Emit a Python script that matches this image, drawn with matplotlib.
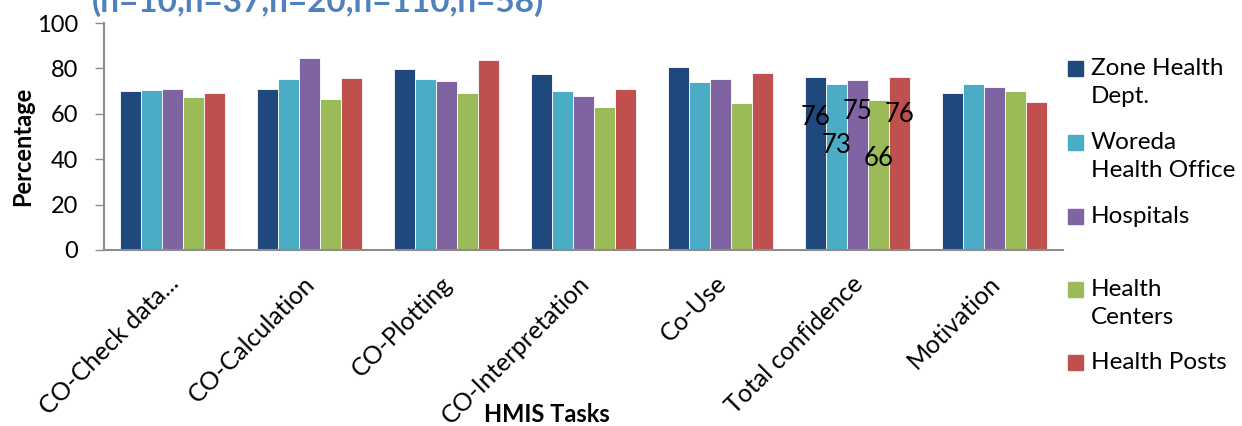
import numpy as np
import matplotlib
matplotlib.use("Agg")
import matplotlib.pyplot as plt
from matplotlib.patches import Rectangle
from matplotlib.transforms import ScaledTranslation

plt.rcParams['font.family'] = ['Lato', 'DejaVu Sans']

tasks = ['CO-Check data...', 'CO-Calculation', 'CO-Plotting', 'CO-Interpretation',
         'Co-Use', 'Total confidence', 'Motivation']
series = ['Zone Health\nDept.', 'Woreda\nHealth Office', 'Hospitals',
          'Health\nCenters', 'Health Posts']
zone = [70.0, 70.9, 79.7, 77.7, 80.6, 76, 69.0]
woreda = [70.3, 75.2, 75.2, 69.9, 74.0, 73, 73.0]
hospitals = [70.8, 84.6, 74.4, 67.7, 75.5, 75, 72.0]
centers = [67.4, 66.4, 69.0, 63.0, 64.6, 66, 70.0]
posts = [69.3, 75.8, 83.9, 70.9, 78.1, 76, 65.0]
values = [zone, woreda, hospitals, centers, posts]
colors = ['#1F497D', '#4BACC6', '#8064A2', '#9BBB59', '#C0504D']

# data labels that only show on the "Total confidence" group
label_group = 5
label_heights = [58.3, 46, 61.2, 40.2, 59.7]

W, H = 1242, 426
fig = plt.figure(figsize=(W / 100, H / 100), dpi=100)
ax = fig.add_axes([104 / W, 1 - 250 / H, (1063 - 104) / W, (250 - 23) / H])

x = np.arange(len(tasks))
bw = 0.154
for i, vals in enumerate(values):
    ax.bar(x + (i - 2) * bw, vals, bw, color=colors[i], edgecolor='white', linewidth=0.6)
    ax.text(label_group + (i - 2) * bw, label_heights[i], str(int(round(vals[label_group]))),
            ha='center', va='center', fontsize=18.5, color='black')

ax.set_xlim(-0.5, len(tasks) - 0.5)
ax.set_ylim(0, 100)
ax.set_yticks(range(0, 101, 20))
ax.tick_params(axis='y', labelsize=17, length=6.5, width=1, color='#8c8c8c', pad=12)
ax.tick_params(axis='x', length=0)
for s in ['top', 'right']:
    ax.spines[s].set_visible(False)
for s in ['left', 'bottom']:
    ax.spines[s].set_color('#8c8c8c')
    ax.spines[s].set_linewidth(1.5)

ax.set_xticks(x)
ax.set_xticklabels(tasks, rotation=45, ha='right', va='center', rotation_mode='anchor', fontsize=18)
off = ScaledTranslation(2 / 100, -25 / 100, fig.dpi_scale_trans)
for lab in ax.get_xticklabels():
    lab.set_transform(lab.get_transform() + off)

fig.text(23 / W, 1 - 146 / H, 'Percentage', rotation=90, ha='center', va='center',
         fontsize=17, fontweight='bold')
fig.text(547 / W, 1 - 414 / H, 'HMIS Tasks', ha='center', va='center',
         fontsize=17, fontweight='bold')
fig.text(318 / W, 1 - 12 / H, '(n=10,n=37,n=20,n=110,n=58)', ha='center', va='baseline',
         fontsize=24, fontweight='bold', color='#4F81BD')

# legend drawn by hand to keep Excel's uneven spacing
leg_y = [68, 142, 216, 289, 362]
for i, name in enumerate(series):
    yc = leg_y[i]
    fig.add_artist(Rectangle((1068 / W, 1 - (yc + 7.5) / H), 15 / W, 15 / H,
                             transform=fig.transFigure, color=colors[i]))
    fig.text(1091 / W, 1 - (yc - 10) / H, name, ha='left', va='top', fontsize=17.5,
             linespacing=1.42)

fig.savefig('out.png', dpi=100)
